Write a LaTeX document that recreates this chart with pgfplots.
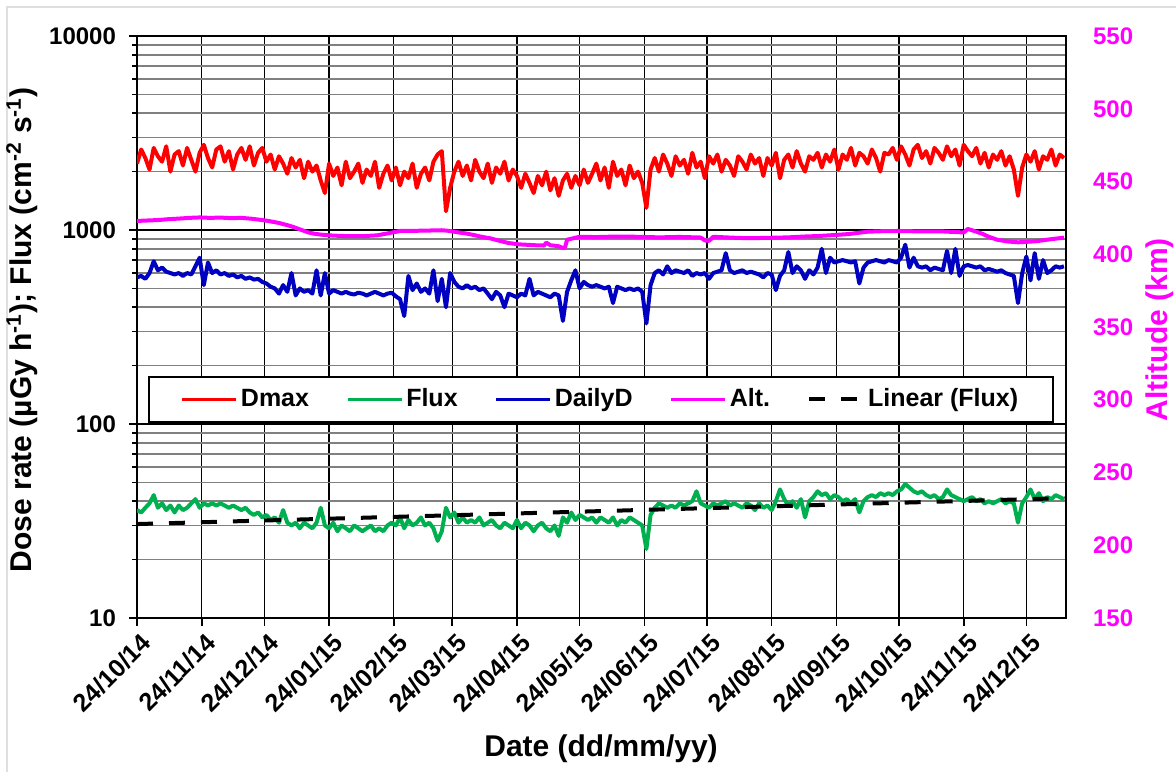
\documentclass[border=0pt]{standalone}
\usepackage{pgfplots}
\usepackage{pgfplotstable}
\pgfplotsset{compat=1.18}
\usepackage{fontspec}
\setmainfont{Liberation Sans}
\definecolor{exred}{RGB}{255,0,0}
\definecolor{exgreen}{RGB}{0,176,80}
\definecolor{exblue}{RGB}{0,0,192}
\definecolor{exmag}{RGB}{255,0,255}
% Dmax, every 2 days from 24/10/14
\pgfplotstableread{
d v
0 2200
2 2600
4 2350
6 2050
8 2650
10 2400
12 2250
14 2700
16 2000
18 2450
20 2550
22 2150
24 2650
26 2300
28 2000
30 2500
32 2750
34 2350
36 2100
38 2600
40 2700
42 2250
44 2550
46 2050
48 2450
50 2650
52 2300
54 2700
56 2150
58 2500
60 2650
62 2250
64 2450
66 2050
68 2400
70 2200
72 1950
74 2350
76 2100
78 2300
80 1850
82 2250
84 2000
86 2150
88 1800
90 1550
92 2200
94 1900
96 2100
98 1700
100 2250
102 1850
104 2000
106 2200
108 1750
110 2050
112 1900
114 2250
116 1650
118 1950
120 2150
122 1800
124 2100
126 1700
128 2000
130 1850
132 2200
134 1650
136 1950
138 2100
140 1800
142 2250
144 2450
146 2550
148 1250
150 1650
152 2000
154 2250
156 1900
158 2150
160 1800
162 2300
164 2000
166 1850
168 2200
170 1750
172 2100
174 1950
176 2250
178 1800
180 2050
182 1900
184 1650
186 1950
188 1750
190 1550
192 1900
194 1700
196 2000
198 1600
200 1850
202 1500
204 1800
206 1950
208 1650
210 1900
212 1700
214 2050
216 1750
218 1950
220 2200
222 1800
224 2100
226 1650
228 2250
230 1900
232 2050
234 1700
236 2150
238 1850
240 2000
242 1750
244 1300
246 2050
248 2350
250 2000
252 2450
254 2200
256 1900
258 2400
260 2150
262 2300
264 1950
266 2500
268 2100
270 2250
272 1850
274 2400
276 2200
278 2450
280 2000
282 2300
284 2150
286 1900
288 2400
290 2250
292 2050
294 2450
296 2200
298 2350
300 1900
302 2350
304 2150
306 2500
308 1850
310 2300
312 2450
314 2100
316 2550
318 2200
320 2000
322 2400
324 2300
326 2500
328 2100
330 2450
332 2250
334 2600
336 2050
338 2450
340 2300
342 2650
344 2150
346 2500
348 2400
350 2200
352 2600
354 2350
356 2000
358 2500
360 2450
362 2650
364 2300
366 2700
368 2450
370 2150
372 2600
374 2750
376 2350
378 2550
380 2200
382 2650
384 2500
386 2300
388 2700
390 2400
392 2600
394 2150
396 2750
398 2550
400 2400
402 2650
404 2200
406 2500
408 2100
410 2450
412 2300
414 2550
416 2150
418 2400
420 2050
422 1500
424 2100
426 2450
428 2250
430 2550
432 2050
434 2400
436 2300
438 2600
440 2150
442 2450
444 2350
}\dmax
% DailyD
\pgfplotstableread{
d v
0 570
2 580
4 560
6 600
8 690
10 620
12 640
14 610
16 600
18 590
20 600
22 580
24 600
26 590
28 650
30 720
32 520
34 680
36 600
38 620
40 590
42 600
44 580
46 590
48 570
50 580
52 560
54 570
56 555
58 560
60 540
62 530
64 510
66 500
68 470
70 520
72 480
74 600
76 460
78 500
80 480
82 490
84 470
86 620
88 460
90 600
92 470
94 490
96 480
98 470
100 480
102 470
104 465
106 475
108 470
110 460
112 470
114 480
116 470
118 460
120 470
122 475
124 455
126 440
128 360
130 580
132 490
134 530
136 480
138 500
140 470
142 620
144 430
146 560
148 400
150 600
152 540
154 510
156 500
158 520
160 500
162 510
164 490
166 500
168 470
170 440
172 480
174 460
176 400
178 470
180 460
182 450
184 470
186 460
188 560
190 460
192 480
194 470
196 460
198 450
200 470
202 460
204 340
206 480
208 550
210 620
212 500
214 540
216 520
218 510
220 520
222 510
224 500
226 510
228 420
230 510
232 500
234 490
236 500
238 490
240 500
242 480
244 330
246 520
248 600
250 620
252 590
254 650
256 600
258 620
260 610
262 600
264 620
266 580
268 600
270 590
272 600
274 560
276 600
278 610
280 620
282 760
284 620
286 600
288 610
290 620
292 600
294 610
296 600
298 590
300 570
302 600
304 590
306 490
308 580
310 620
312 770
314 600
316 650
318 620
320 560
322 620
324 590
326 640
328 800
330 600
332 720
334 680
336 690
338 700
340 690
342 680
344 690
346 530
348 640
350 680
352 690
354 700
356 690
358 680
360 700
362 690
364 680
366 720
368 840
370 640
372 720
374 650
376 640
378 650
380 620
382 640
384 630
386 620
388 780
390 600
392 800
394 580
396 650
398 660
400 650
402 640
404 650
406 620
408 630
410 620
412 610
414 620
416 600
418 590
420 580
422 420
424 600
426 730
428 550
430 760
432 560
434 700
436 600
438 620
440 650
442 640
444 650
}\daily
% Flux
\pgfplotstableread{
d v
0 36
2 35
4 37
6 39
8 43
10 37
12 39
14 36
16 38
18 35
20 38
22 36
24 37
26 39
28 41
30 37
32 39
34 38
36 39
38 38
40 39
42 38
44 37
46 38
48 37
50 36
52 37
54 35
56 34
58 35
60 33
62 34
64 32
66 33
68 31
70 36
72 31
74 30
76 31
78 29
80 31
82 30
84 29
86 31
88 37
90 30
92 29
94 31
96 28
98 30
100 29
102 28
104 30
106 29
108 28
110 29
112 30
114 28
116 29
118 28
120 30
122 31
124 30
126 33
128 29
130 32
132 30
134 31
136 33
138 30
140 31
142 29
144 25
146 28
148 37
150 33
152 35
154 31
156 33
158 31
160 32
162 31
164 33
166 30
168 31
170 32
172 30
174 29
176 31
178 30
180 29
182 32
184 29
186 31
188 30
190 28
192 30
194 31
196 29
198 28
200 30
202 26.5
204 33
206 31
208 35
210 32
212 34
214 33
216 32
218 33
220 31
222 33
224 32
226 31
228 33
230 30
232 32
234 31
236 33
238 32
240 31
242 30
244 22.7
246 34
248 37
250 39
252 38
254 37
256 38
258 37
260 39
262 38
264 39
266 40
268 45
270 39
272 38
274 37
276 39
278 38
280 39
282 40
284 38
286 39
288 38
290 37
292 39
294 38
296 36
298 39
300 37
302 38
304 36
306 40
308 46
310 41
312 38
314 40
316 37
318 41
320 33
322 40
324 42
326 45
328 43
330 44
332 41
334 43
336 42
338 40
340 41
342 39
344 41
346 35
348 40
350 42
352 43
354 42
356 44
358 43
360 44
362 43
364 45
366 46
368 49
370 47
372 45
374 44
376 45
378 43
380 42
382 43
384 41
386 42
388 46
390 43
392 42
394 41
396 40
398 41
400 42
402 40
404 41
406 39
408 40
410 39
412 40
414 41
416 39
418 40
420 39
422 31
424 39
426 42
428 46
430 41
432 44
434 40
436 42
438 41
440 43
442 42
444 41
}\flux
\begin{document}
\begin{tikzpicture}
\path[use as bounding box] (0pt,0pt) rectangle (588pt,386pt);
\draw[gray!25, line width=0.8pt] (3.5pt,0pt) -- (3.5pt,382.5pt) -- (588pt,382.5pt);
\begin{axis}[
  at={(68.5pt,77pt)}, anchor=south west,
  scale only axis, width=464.5pt, height=291pt,
  xmin=0, xmax=445, ymode=log, ymin=10, ymax=10000,
  xtick={0,31,61,92,123,151,182,212,243,273,304,335,365,396,426},
  xticklabels={24/10/14,24/11/14,24/12/14,24/01/15,24/02/15,24/03/15,24/04/15,24/05/15,24/06/15,24/07/15,24/08/15,24/09/15,24/10/15,24/11/15,24/12/15},
  xticklabel style={rotate=45, anchor=north east, font=\bfseries\fontsize{12.5}{13}\selectfont, inner sep=1pt, yshift=-2pt},
  ytick={10,100,1000,10000}, yticklabels={10,100,1000,10000},
  yticklabel style={font=\bfseries\fontsize{12}{13}\selectfont, xshift=-3pt},
  xtick pos=bottom, ytick pos=left, tick align=outside,
  major tick length=4pt, minor tick length=2.5pt,
  tick style={black, line width=0.8pt},
  grid=both,
  major grid style={black, line width=0.7pt},
  minor grid style={black!50, line width=0.85pt},
  axis line style={black, line width=1.3pt},
  xlabel={\bfseries Date (dd/mm/yy)},
  xlabel style={at={(axis description cs:0.4995,-0.225)}, anchor=center, font=\fontsize{15}{16}\selectfont},
  ylabel={\bfseries Dose rate (µGy h\textsuperscript{-1}); Flux (cm\textsuperscript{-2} s\textsuperscript{-1})},
  ylabel style={at={(axis description cs:-0.124,0.495)}, anchor=center, font=\fontsize{15}{16}\selectfont},
]
\addplot[exred, line width=2pt, line join=round] table[x=d, y=v] {\dmax};
\addplot[exgreen, line width=2pt, line join=round] table[x=d, y=v] {\flux};
\addplot[exblue, line width=2pt, line join=round] table[x=d, y=v] {\daily};
% Linear (Flux)
\addplot[black, line width=2pt, dash pattern=on 8pt off 8pt] coordinates {(0,30.5)(445,41.5)};
\end{axis}
\begin{axis}[
  at={(68.5pt,77pt)}, anchor=south west,
  scale only axis, width=464.5pt, height=291pt,
  xmin=0, xmax=445, ymin=150, ymax=550,
  axis x line=none, axis y line*=right,
  axis line style={draw=none},
  ytick={150,200,250,300,350,400,450,500,550},
  yticklabels={150,200,250,300,350,400,450,500,550},
  major tick length=0pt,
  yticklabel style={exmag, font=\bfseries\fontsize{12}{13}\selectfont, xshift=10pt},
  ylabel={\bfseries Altitude (km)},
  ylabel style={at={(axis description cs:1.101,0.495)}, anchor=center, exmag, font=\fontsize{15}{16}\selectfont},
  legend columns=5,
  legend style={at={(0.0118,0.4158)}, anchor=north west, draw=black, line width=0.8pt, fill=white,
    inner xsep=16pt, inner ysep=4pt, font=\bfseries\fontsize{12.5}{13}\selectfont,
    /tikz/every even column/.append style={column sep=17pt},
    nodes={inner xsep=1.5pt}},
  legend image code/.code={\draw[#1] (0pt,0pt) -- (27pt,0pt);},
]
\addlegendimage{exred, line width=1.6pt}\addlegendentry{Dmax}
\addlegendimage{exgreen, line width=1.6pt}\addlegendentry{Flux}
\addlegendimage{exblue, line width=1.6pt}\addlegendentry{DailyD}
\addlegendimage{exmag, line width=1.6pt}\addlegendentry{Alt.}
\addlegendimage{black, line width=2pt, dash pattern=on 8pt off 8pt}\addlegendentry{Linear (Flux)}
\addplot[exmag, line width=2pt, line join=round, forget plot] coordinates {
(0,422.9)(5,423.2)(10,423.5)(15,424.1)(20,424.5)(25,425.0)(30,425.3)(35,425.0)(40,425.2)(45,424.8)
(50,425.0)(55,424.4)(60,423.5)(64,422.6)(68,421.5)(72,420.0)(75,418.7)(79,416.6)(82,415.0)(85,414.1)
(88,413.5)(94,412.8)(100,412.5)(108,412.4)(115,413.0)(121,414.6)(126,416.0)(133,416.1)(140,416.3)(146,416.5)
(150,416.0)(154,415.0)(158,414.2)(162,413.0)(165,412.0)(169,411.0)(173,409.5)(178,407.7)(183,406.8)(188,406.4)
(192,406.1)(195,406.0)(196,408.0)(198,406.2)(202,405.5)(204,404.3)(205,404.6)(206,410.0)(212,412.0)(220,411.8)
(230,412.2)(240,412.0)(250,411.6)(260,411.9)(270,411.5)(272,409.5)(274,409.2)(276,412.0)(285,411.4)(293,411.0)
(303,411.3)(312,411.6)(320,412.2)(326,412.5)(334,413.2)(341,413.9)(346,414.8)(350,415.5)(358,415.9)(365,416.0)
(375,415.7)(384,415.8)(390,415.4)(396,415.0)(398,417.4)(401,416.0)(405,414.0)(408,412.0)(412,410.0)(417,408.8)
(422,408.2)(426,408.5)(431,409.0)(437,410.2)(444,411.4)
};
\end{axis}
\end{tikzpicture}
\end{document}
